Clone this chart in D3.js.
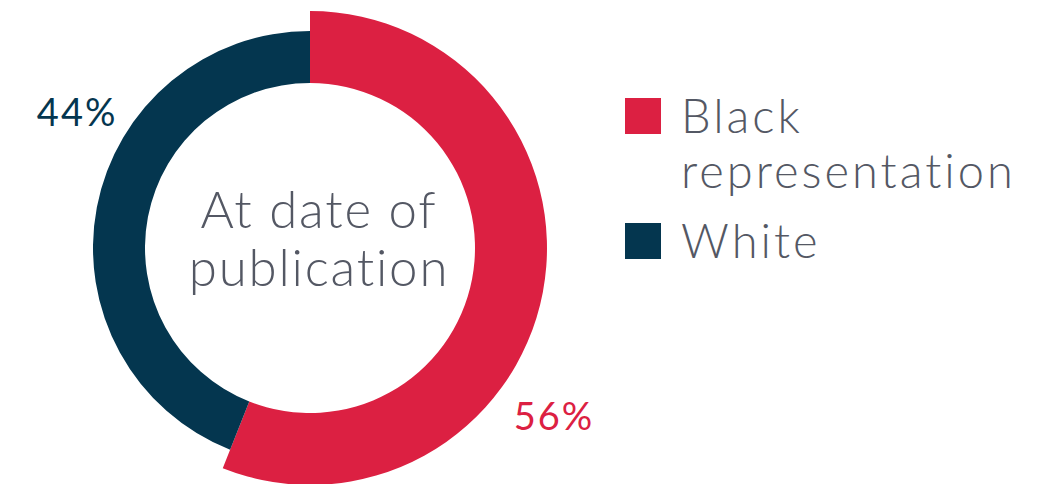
<!DOCTYPE html>
<html>
<head>
<meta charset="utf-8">
<script src="https://cdn.jsdelivr.net/npm/d3@7"></script>
<style>
  html, body { margin: 0; padding: 0; background: #fff; }
  svg { display: block; font-family: "Lato", "Open Sans", sans-serif; }
</style>
</head>
<body>
<script>
const w = 1053;
const h = 484;
const categories = ["Black representation", "White"];
const values = [56, 44];
const labels = ["56%", "44%"];
const legendLines = [["Black", "representation"], ["White"]];
const centerLines = ["At date of", "publication"];

const colors = ["#dc2042", "#04364f"];
const cx = 310;
const cy = 248;
const innerR = 165;
const outerR = [237, 217];

const svg = d3.select("body")
	.append("svg")
	.attr("width", w)
	.attr("height", h);

const data = categories.map((c, i) => ({ name: c, value: values[i], label: labels[i], i: i }));

// * PIE
const pie = d3.pie()
	.value((d) => d.value)
	.sort(null);
const arcs = pie(data);

const arc = d3.arc()
	.innerRadius(innerR)
	.outerRadius((d) => outerR[d.data.i]);

const g = svg.append("g").attr("transform", `translate(${cx},${cy})`);

g.selectAll("path")
	.data(arcs)
	.enter()
	.append("path")
	.attr("d", arc)
	.style("fill", (d) => colors[d.data.i]);

// * PERCENT LABELS
g.selectAll("text.pct")
	.data(arcs)
	.enter()
	.append("text")
	.attr("class", "pct")
	.attr("transform", (d) => {
		const a = d.startAngle + 0.62 * (d.endAngle - d.startAngle);
		const r = outerR[d.data.i] + 56;
		return `translate(${r * Math.sin(a) + 4},${-r * Math.cos(a)})`;
	})
	.attr("text-anchor", "middle")
	.attr("dy", "0.36em")
	.style("font-size", "38px")
	.style("letter-spacing", "2px")
	.style("fill", (d) => colors[d.data.i])
	.text((d) => d.data.label);

// * CENTER TEXT
g.selectAll("text.center")
	.data(centerLines)
	.enter()
	.append("text")
	.attr("class", "center")
	.attr("x", 9)
	.attr("y", (d, i) => -20 + i * 58)
	.attr("text-anchor", "middle")
	.style("font-size", "51px")
	.style("font-weight", 300)
	.style("letter-spacing", "1.8px")
	.style("fill", "#545864")
	.text((d) => d);

// * LEGEND
const legend = svg.append("g").attr("transform", "translate(625,98)");
const rowY = [0, 125];

const items = legend.selectAll("g")
	.data(data)
	.enter()
	.append("g")
	.attr("transform", (d, i) => `translate(0,${rowY[i]})`);

items.append("rect")
	.attr("width", 36)
	.attr("height", 36)
	.style("fill", (d) => colors[d.i]);

items.each(function (d, i) {
	d3.select(this)
		.selectAll("text")
		.data(legendLines[i])
		.enter()
		.append("text")
		.attr("x", 56)
		.attr("y", (t, j) => 35 + j * 55)
		.style("font-size", "47px")
		.style("font-weight", 300)
		.style("letter-spacing", "3px")
		.style("fill", "#545864")
		.text((t) => t);
});
</script>
</body>
</html>
